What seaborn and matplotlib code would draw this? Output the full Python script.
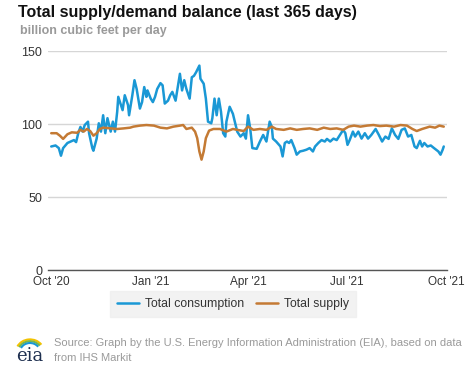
import pandas as pd
import numpy as np
import matplotlib
matplotlib.use("Agg")
import matplotlib.pyplot as plt
from matplotlib.patches import Arc
from matplotlib.lines import Line2D
import seaborn as sns

# Data: days since 2020-10-01, billion cubic feet per day
cons_day = [0, 4, 7, 9, 11, 15, 18, 21, 23, 25, 27, 29, 31, 34, 35, 38, 39, 42, 44, 46,
            48, 50, 52, 55, 57, 59, 61, 62, 64, 66, 68, 71, 72, 75, 77, 79, 82, 84, 86, 88,
            89, 92, 94, 96, 98, 101, 103, 105, 108, 110, 112, 115, 117, 119, 121, 123, 125, 128, 130, 132,
            134, 137, 138, 141, 143, 145, 148, 149, 151, 153, 155, 157, 159, 161, 162, 165, 168, 172, 175, 178,
            180, 182, 184, 186, 190, 193, 196, 199, 202, 204, 205, 208, 212, 214, 216, 218, 220, 222, 225, 227,
            230, 233, 236, 239, 242, 244, 247, 250, 253, 255, 258, 261, 264, 267, 270, 272, 274, 276, 279, 281,
            284, 287, 290, 293, 296, 300, 303, 306, 309, 312, 315, 318, 321, 324, 327, 330, 333, 336, 338, 341,
            343, 345, 348, 351, 354, 358, 360, 362, 363]
cons_val = [84.6, 85.3, 83.5, 78.3, 83.5, 87.0, 88.0, 89.0, 87.6, 93.7, 98.0, 94.8, 99.3, 101.6, 93.7, 83.5, 81.7, 90.0, 100.5, 94.8,
            106.0, 93.7, 104.0, 94.8, 101.6, 94.8, 108.4, 118.6, 114.0, 109.5, 119.7, 113.0, 106.0, 119.7, 130.0, 124.0, 110.6, 115.0, 125.3, 118.6,
            123.0, 117.4, 115.0, 118.6, 124.0, 128.0, 126.5, 114.0, 116.0, 119.7, 122.0, 116.0, 125.3, 134.4, 123.0, 130.0, 124.0, 117.4, 132.0, 133.0,
            135.5, 140.0, 131.0, 127.6, 117.4, 101.6, 100.5, 104.0, 117.4, 106.0, 117.4, 108.4, 93.7, 91.4, 101.6, 111.8, 107.0, 94.8, 91.4, 93.7,
            90.0, 106.0, 97.0, 83.5, 83.0, 88.0, 92.5, 88.0, 101.6, 98.0, 90.0, 88.0, 84.6, 77.8, 87.0, 88.0, 87.0, 89.0, 83.5, 79.0,
            81.2, 81.7, 82.4, 83.5, 81.2, 84.6, 87.0, 89.0, 88.0, 89.8, 88.0, 90.0, 89.0, 92.5, 96.0, 93.7, 85.7, 89.0, 94.8, 91.4,
            94.8, 90.0, 93.7, 90.0, 92.5, 96.6, 92.5, 88.0, 91.4, 89.8, 97.0, 92.5, 89.8, 96.0, 97.0, 91.4, 92.5, 84.6, 83.5, 88.5,
            84.6, 87.0, 84.6, 85.3, 83.5, 81.2, 79.0, 82.4, 84.6]

sup_day = [0, 5, 8, 11, 15, 19, 24, 27, 30, 33, 36, 39, 42, 45, 48, 55, 61, 67, 73, 76,
           82, 88, 95, 101, 107, 113, 119, 122, 125, 130, 133, 135, 137, 139, 141, 143, 146, 150, 156, 162,
           168, 172, 178, 182, 187, 193, 199, 204, 208, 215, 221, 227, 233, 239, 246, 252, 258, 264, 270, 275,
           280, 286, 292, 298, 304, 310, 317, 323, 329, 334, 338, 343, 347, 350, 355, 359, 363]
sup_val = [93.7, 93.7, 92.0, 89.8, 93.0, 94.3, 94.0, 96.0, 94.8, 96.6, 95.2, 92.0, 93.7, 96.6, 97.5, 97.0, 96.6, 97.0, 97.5, 98.2,
           98.9, 99.3, 98.9, 97.5, 97.0, 98.2, 98.9, 99.3, 96.6, 97.5, 94.8, 90.3, 81.2, 75.6, 81.2, 90.3, 95.5, 96.6, 96.6, 94.8,
           96.6, 96.0, 95.2, 98.2, 96.0, 96.6, 96.0, 98.2, 96.6, 96.0, 97.0, 96.0, 96.6, 97.0, 96.0, 97.5, 96.6, 97.0, 96.0, 98.2,
           98.9, 98.2, 98.9, 99.3, 98.6, 98.9, 98.2, 99.3, 98.9, 96.6, 95.2, 96.6, 97.5, 98.2, 97.5, 98.9, 98.2]

start = pd.Timestamp("2020-10-01")
cons = pd.DataFrame({"date": start + pd.to_timedelta(cons_day, unit="D"),
                     "value": cons_val, "series": "Total consumption"})
sup = pd.DataFrame({"date": start + pd.to_timedelta(sup_day, unit="D"),
                    "value": sup_val, "series": "Total supply"})
df = pd.concat([cons, sup], ignore_index=True)

blue = "#1a98d5"
brown = "#c47a34"

sns.set_style("white")
plt.rcParams['font.family'] = ['Liberation Sans', 'DejaVu Sans']

fig = plt.figure(figsize=(4.77, 3.67), dpi=100)
ax = fig.add_axes([0.1006, 0.2643, 0.8365, 0.5967])

sns.lineplot(data=df, x="date", y="value", hue="series",
             palette={"Total consumption": blue, "Total supply": brown},
             linewidth=1.8, ax=ax, legend=False)

ax.set_xlim(start - pd.Timedelta(days=3), pd.Timestamp("2021-10-02"))
ax.set_ylim(0, 150)
ax.set_yticks([0, 50, 100, 150])
ax.set_xticks(pd.to_datetime(["2020-10-01", "2021-01-01", "2021-04-01", "2021-07-01", "2021-10-01"]))
ax.set_xticklabels(["Oct '20", "Jan '21", "Apr '21", "Jul '21", "Oct '21"])
ax.grid(axis="y", color="#d6d6d6", linewidth=1)
ax.set_axisbelow(True)
for s in ["top", "right", "left"]:
    ax.spines[s].set_visible(False)
ax.spines["bottom"].set_color("#555555")
ax.spines["bottom"].set_linewidth(1)
ax.tick_params(axis="x", length=4, width=1, color="#555555", labelsize=8.5, labelcolor="#333333", pad=0)
ax.tick_params(axis="y", length=0, labelsize=9, labelcolor="#333333", pad=4)
ax.set_xlabel("")
ax.set_ylabel("")

# legend
handles = [Line2D([], [], color=blue, lw=1.8), Line2D([], [], color=brown, lw=1.8)]
leg = fig.legend(handles, ["Total consumption", "Total supply"], loc="center",
                 bbox_to_anchor=(233 / 477, 1 - 304 / 367), ncol=2, frameon=True,
                 fontsize=8.8, handlelength=1.8, columnspacing=1.0, handletextpad=0.5,
                 borderpad=0.55, fancybox=False)
leg.get_frame().set_facecolor("#efefef")
leg.get_frame().set_edgecolor("#efefef")
for t in leg.get_texts():
    t.set_color("#333333")

# titles
fig.text(18 / 477, 1 - 13 / 367, "Total supply/demand balance (last 365 days)",
         fontsize=11.5, fontweight="bold", color="#111111", va="center", ha="left")
fig.text(20 / 477, 1 - 31 / 367, "billion cubic feet per day",
         fontsize=9, fontweight="bold", color="#9a9a9a", va="center", ha="left")

# source
fig.text(54 / 477, 1 - 343 / 367, "Source: Graph by the U.S. Energy Information Administration (EIA), based on data",
         fontsize=8, color="#9a9a9a", va="center", ha="left")
fig.text(54 / 477, 1 - 358 / 367, "from IHS Markit",
         fontsize=8, color="#9a9a9a", va="center", ha="left")

# eia logo
fig.text(30 / 477, 1 - 356 / 367, "eia", fontsize=13, family="DejaVu Serif",
         color="#1f3050", va="center", ha="center")
for w, c in [(28, "#f2c200"), (24, "#7ab648"), (20, blue)]:
    arc = Arc((30 / 477, 1 - 352 / 367), w / 477, w / 367 * 0.9, theta1=40, theta2=150,
              transform=fig.transFigure, color=c, lw=1.5)
    fig.add_artist(arc)

fig.savefig("out.png", dpi=100)
